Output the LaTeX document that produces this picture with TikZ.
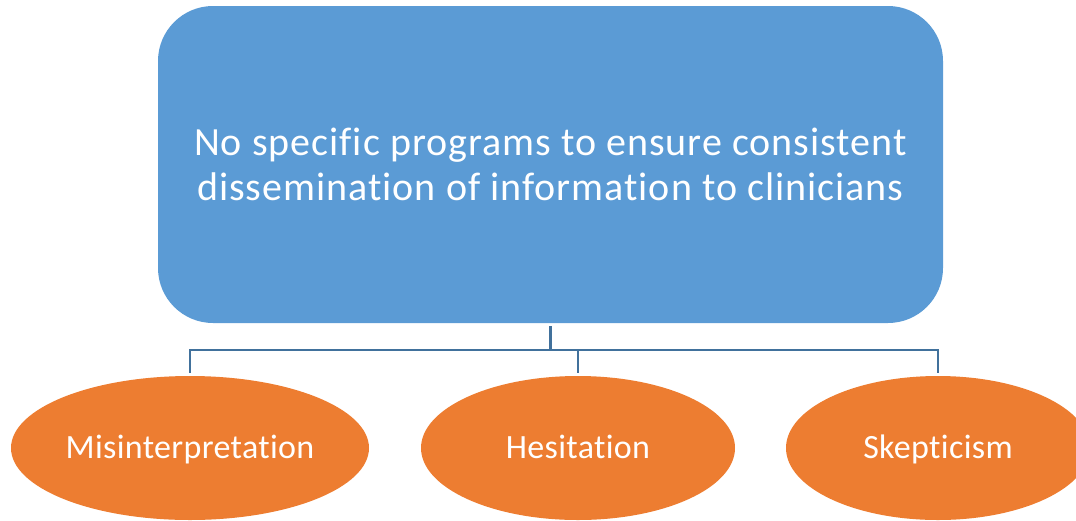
\documentclass[tikz,border=0pt]{standalone}
\usepackage{fontspec}
\setmainfont[Ligatures={NoCommon}]{Carlito}
\newfontfamily\boxfont[Ligatures={NoCommon},LetterSpace=2.5]{Carlito}
\newfontfamily\ovalfont[Ligatures={NoCommon},LetterSpace=1.0]{Carlito}
\usetikzlibrary{shapes.geometric}
\definecolor{boxblue}{HTML}{5B9BD5}
\definecolor{ovalorange}{HTML}{ED7D31}
\definecolor{linkblue}{HTML}{41719C}
\begin{document}
\begin{tikzpicture}[x=1pt,y=-1pt,
  topbox/.style={fill=boxblue, draw=none, rounded corners=55pt,
    minimum width=785pt, minimum height=317pt, inner sep=0pt,
    text=white, align=center, font=\boxfont\fontsize{40}{45}\selectfont},
  oval/.style={ellipse, fill=ovalorange, draw=none, minimum height=144pt,
    inner sep=0pt, text height=24pt, text depth=4pt,
    text=white, font=\ovalfont\fontsize{34}{40}\selectfont},
  link/.style={draw=linkblue, line width=2.4pt}]
  \clip (0,0) rectangle (1076,520);
  \useasboundingbox (0,0) rectangle (1076,520);

  \node[topbox] (top) at (550.5,164.5)
    {No specific programs to ensure consistent\\dissemination of information to clinicians};

  \node[oval, minimum width=358pt] (mis) at (190,448) {Misinterpretation};
  \node[oval, minimum width=314pt] (hes) at (578,448) {Hesitation};
  \node[oval, minimum width=304pt] (ske) at (938,448) {Skepticism};

  \coordinate (bus) at (551,350);

  \draw[link, shorten <=3pt] (top.south) -- (top.south |- bus);
  \draw[link, shorten <=3pt, shorten >=3pt] (mis.north) |- (ske.north |- bus) -- (ske.north);
  \draw[link, shorten >=3pt] (hes.north |- bus) -- (hes.north);
\end{tikzpicture}
\end{document}
